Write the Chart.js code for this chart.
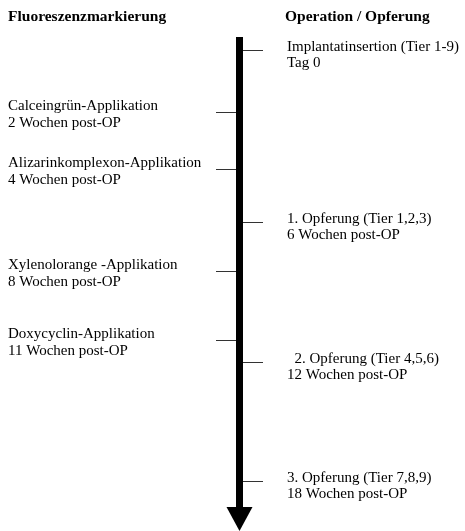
<!DOCTYPE html>
<html>
<head>
<meta charset="utf-8">
<script src="https://cdn.jsdelivr.net/npm/chart.js@4/dist/chart.umd.min.js"></script>
<style>
html,body{margin:0;padding:0;background:#fff;}
#wrap{width:465px;height:531px;position:relative;}
</style>
</head>
<body>
<div id="wrap"><canvas id="c" width="465" height="531"></canvas></div>
<script>
// ---- data ----
const headerLeft = "Fluoreszenzmarkierung";
const headerRight = "Operation / Opferung";
const eventTitles = [
  "Implantatinsertion (Tier 1-9)",
  "Calceingrün-Applikation",
  "Alizarinkomplexon-Applikation",
  "1. Opferung (Tier 1,2,3)",
  "Xylenolorange -Applikation",
  "Doxycyclin-Applikation",
  "  2. Opferung (Tier 4,5,6)",
  "3. Opferung (Tier 7,8,9)"
];
const eventTimes = [
  "Tag 0",
  "2 Wochen post-OP",
  "4 Wochen post-OP",
  "6 Wochen post-OP",
  "8 Wochen post-OP",
  "11 Wochen post-OP",
  "12 Wochen post-OP",
  "18 Wochen post-OP"
];
const eventWeeks = [0, 2, 4, 6, 8, 11, 12, 18];
const eventSide = ["right", "left", "left", "right", "left", "left", "right", "right"];
const axisWeekMin = -0.4;
const axisWeekMax = 20.83;

// schematic (compressed) time axis: log scale of weeks shifted by a constant
const AXIS_SHIFT = 24;

const FONT = "15px 'Liberation Serif', 'Times New Roman', serif";
const FONT_BOLD = "bold 15.5px 'Liberation Serif', 'Times New Roman', serif";

const timelinePlugin = {
  id: 'timeline',
  afterDatasetsDraw(chart) {
    const ctx = chart.ctx;
    const area = chart.chartArea;
    const xs = chart.scales.x;
    const cx = xs.getPixelForValue(0);
    ctx.save();
    // headers
    ctx.fillStyle = '#000';
    ctx.font = FONT_BOLD;
    ctx.textBaseline = 'middle';
    ctx.textAlign = 'left';
    ctx.fillText(headerLeft, 8, 17);
    ctx.fillText(headerRight, 285, 17);

    // arrow
    const headH = 24, headW = 26, shaftW = 7;
    ctx.fillStyle = '#000';
    ctx.fillRect(cx - shaftW / 2, area.top, shaftW, area.bottom - area.top - headH);
    ctx.beginPath();
    ctx.moveTo(cx - headW / 2, area.bottom - headH);
    ctx.lineTo(cx + headW / 2, area.bottom - headH);
    ctx.lineTo(cx, area.bottom);
    ctx.closePath();
    ctx.fill();

    // ticks and labels
    const meta = chart.getDatasetMeta(0);
    ctx.font = FONT;
    meta.data.forEach((pt, i) => {
      const y = Math.round(pt.y) + 0.5;
      ctx.strokeStyle = '#333';
      ctx.lineWidth = 1;
      ctx.beginPath();
      if (eventSide[i] === 'left') {
        ctx.moveTo(cx - shaftW / 2 - 20, y);
        ctx.lineTo(cx - shaftW / 2, y);
      } else {
        ctx.moveTo(cx + shaftW / 2, y);
        ctx.lineTo(cx + shaftW / 2 + 20, y);
      }
      ctx.stroke();
      ctx.fillStyle = '#000';
      if (eventSide[i] === 'left') {
        ctx.fillText(eventTitles[i], 8, y - 6);
        ctx.fillText(eventTimes[i], 8, y + 11);
      } else {
        ctx.fillText(eventTitles[i], 287, y - 3);
        ctx.fillText(eventTimes[i], 287, y + 13);
      }
    });
    ctx.restore();
  }
};

new Chart(document.getElementById('c'), {
  type: 'scatter',
  data: {
    datasets: [{
      data: eventWeeks.map(w => ({ x: 0, y: w + AXIS_SHIFT })),
      pointRadius: 0,
      pointHoverRadius: 0,
      showLine: false
    }]
  },
  options: {
    responsive: false,
    animation: false,
    events: [],
    layout: { padding: { top: 37, bottom: 0, left: 14, right: 0 } },
    plugins: { legend: { display: false }, tooltip: { enabled: false }, title: { display: false } },
    scales: {
      x: { type: 'linear', display: false, min: -1, max: 1 },
      y: {
        type: 'logarithmic', display: false, reverse: true,
        min: axisWeekMin + AXIS_SHIFT, max: axisWeekMax + AXIS_SHIFT
      }
    }
  },
  plugins: [timelinePlugin]
});
</script>
</body>
</html>
